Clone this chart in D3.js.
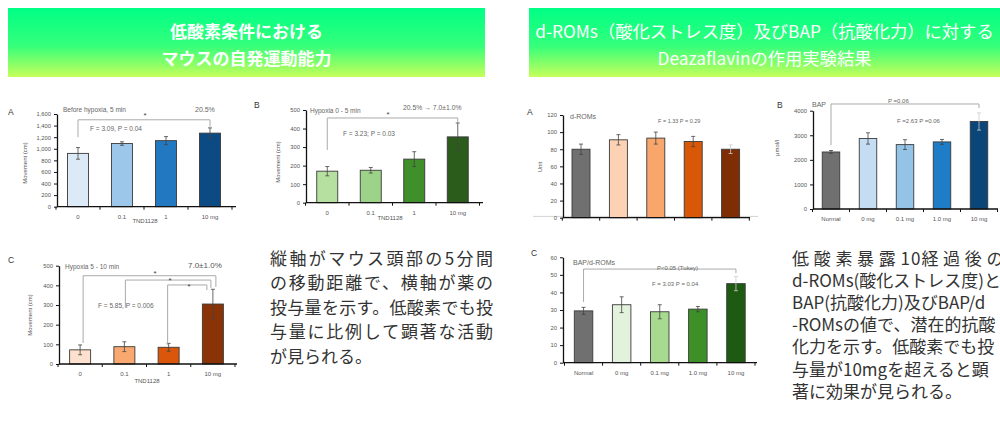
<!DOCTYPE html>
<html>
<head>
<meta charset="utf-8">
<script src="https://cdn.jsdelivr.net/npm/d3@7"></script>
<style>
body { margin: 0; background: #fff; }
svg text { font-family: "Liberation Sans", Arial, sans-serif; }
svg text.jp { font-family: "Noto Sans CJK JP", sans-serif; }
</style>
</head>
<body>
<svg width="1000" height="425"></svg>
<script>
// ---- data ----
var doseLabels = ["0", "0.1", "1", "10 mg"];
var groupLabels = ["Normal", "0 mg", "0.1 mg", "1.0 mg", "10 mg"];

var moveBefore = [920, 1090, 1140, 1270];
var moveBeforeErr = [100, 30, 70, 90];
var moveHyp05 = [170, 175, 235, 355];
var moveHyp05Err = [25, 15, 40, 75];
var moveHyp510 = [72, 88, 85, 305];
var moveHyp510Err = [25, 25, 20, 75];

var dromsVals = [80, 91, 93, 89, 80];
var dromsErr = [6, 6, 7, 6, 5];
var bapVals = [2320, 2870, 2620, 2730, 3560];
var bapErr = [60, 230, 200, 100, 350];
var ratioVals = [29.5, 33, 29, 30.5, 45];
var ratioErr = [2, 4.5, 4, 1.5, 4];

var ticksMoveA = [0, 200, 400, 600, 800, 1000, 1200, 1400, 1600];
var ticksMove = [0, 100, 200, 300, 400, 500];
var ticksDroms = [0, 20, 40, 60, 80, 100, 120];
var ticksBap = [0, 1000, 2000, 3000, 4000];
var ticksRatio = [0, 10, 20, 30, 40, 50, 60];

var headerLeft = ["低酸素条件における", "マウスの自発運動能力"];
var headerRight = ["d-ROMs（酸化ストレス度）及びBAP（抗酸化力）に対する", "Deazaflavinの作用実験結果"];
var noteLeft = ["縦軸がマウス頭部の5分間", "の移動距離で、横軸が薬の", "投与量を示す。低酸素でも投",
                "与量に比例して顕著な活動", "が見られる。"];
// first line of the right note is split so the digits keep tight spacing
var noteRightFirst = ["低酸素暴露", "10", "経過後の"];
var noteRight = ["d-ROMs(酸化ストレス度)と", "BAP(抗酸化力)及びBAP/d",
                 "-ROMsの値で、潜在的抗酸", "化力を示す。低酸素でも投", "与量が10mgを超えると顕",
                 "著に効果が見られる。"];

var svg = d3.select("svg");

// header gradient
var grad = svg.append("defs").append("linearGradient")
  .attr("id", "hdr").attr("x1", 0).attr("y1", 0).attr("x2", 0).attr("y2", 1);
grad.append("stop").attr("offset", "0%").attr("stop-color", "#00ff86");
grad.append("stop").attr("offset", "55%").attr("stop-color", "#35ff7a");
grad.append("stop").attr("offset", "100%").attr("stop-color", "#c6ff5a");

function header(x, w, lines, weight, size) {
  svg.append("rect").attr("x", x).attr("y", 8).attr("width", w).attr("height", 69)
    .attr("fill", "url(#hdr)");
  lines.forEach(function(t, i) {
    svg.append("text").attr("class", "jp")
      .attr("x", x + w / 2).attr("y", 30 + i * 27)
      .attr("text-anchor", "middle").attr("dominant-baseline", "central")
      .attr("fill", "#fff").attr("font-size", size).attr("font-weight", weight)
      .text(t);
  });
}
header(8, 477, headerLeft, "bold", 17);
header(529, 471, headerRight, "normal", 17.3);

function panel(p) {
  var g = svg.append("g");
  var n = p.values.length;
  var x = d3.scalePoint().domain(d3.range(n)).range(p.xr).padding(0.5);
  var y = d3.scaleLinear().domain([0, p.max]).range([p.y0, p.yTop]);
  var step = x.step();

  if (p.faint) {
    g.append("line").attr("x1", p.ax - 30).attr("x2", p.axEnd + 8)
      .attr("y1", y(p.faint)).attr("y2", y(p.faint))
      .attr("stroke", "#c8c8c8").attr("stroke-width", 0.8);
  }

  g.selectAll("rect.bar").data(p.values).enter().append("rect")
    .attr("class", "bar")
    .attr("x", function(d, i) { return x(i) - p.bw / 2; })
    .attr("y", function(d) { return y(d); })
    .attr("width", p.bw)
    .attr("height", function(d) { return y(0) - y(d); })
    .attr("fill", function(d, i) { return p.colors[i]; })
    .attr("stroke", "#3a3a3a").attr("stroke-width", 0.9);

  // error bars
  var eb = g.selectAll("g.err").data(p.values).enter().append("g").attr("class", "err")
    .attr("stroke", function(d, i) { return i === n - 1 && p.lastLightErr ? "#ccc" : "#444"; })
    .attr("stroke-width", 0.8);
  eb.append("line")
    .attr("x1", function(d, i) { return x(i); }).attr("x2", function(d, i) { return x(i); })
    .attr("y1", function(d, i) { return y(d - p.errs[i]); })
    .attr("y2", function(d, i) { return y(d + p.errs[i]); });
  [-1, 1].forEach(function(s) {
    eb.append("line")
      .attr("x1", function(d, i) { return x(i) - 2; }).attr("x2", function(d, i) { return x(i) + 2; })
      .attr("y1", function(d, i) { return y(d + s * p.errs[i]); })
      .attr("y2", function(d, i) { return y(d + s * p.errs[i]); });
  });

  // y axis
  var ya = g.append("g").attr("transform", "translate(" + p.ax + ",0)")
    .call(d3.axisLeft(y).tickValues(p.ticks).tickSize(3).tickSizeOuter(0).tickFormat(p.fmt || d3.format("d")));
  ya.select(".domain").attr("stroke", "#111").attr("stroke-width", 1.3);
  ya.selectAll(".tick line").attr("stroke", "#111");
  ya.selectAll(".tick text").attr("font-size", 5.8).attr("fill", "#555").attr("x", -6)
    .attr("font-family", "Liberation Sans, Arial, sans-serif");

  // x axis line + boundary ticks
  g.append("line").attr("x1", p.ax).attr("x2", p.axEnd).attr("y1", y(0)).attr("y2", y(0))
    .attr("stroke", "#111").attr("stroke-width", 1.3);
  g.selectAll("line.xt").data(d3.range(n + 1)).enter().append("line").attr("class", "xt")
    .attr("x1", function(i) { return x(0) - step / 2 + i * step; })
    .attr("x2", function(i) { return x(0) - step / 2 + i * step; })
    .attr("y1", y(0)).attr("y2", y(0) + 3)
    .attr("stroke", "#111").attr("stroke-width", 1);

  if (p.labels) {
    g.selectAll("text.xl").data(p.labels).enter().append("text").attr("class", "xl")
      .attr("x", function(d, i) { return x(i); }).attr("y", y(0) + 10)
      .attr("text-anchor", "middle").attr("dominant-baseline", "central")
      .attr("font-size", 6).attr("fill", "#555").text(function(d) { return d; });
  }

  // significance brackets
  (p.brackets || []).forEach(function(b) {
    var xa = x(b.a) + (b.da || 0), xb = x(b.b) + (b.db || 0);
    g.append("path")
      .attr("d", "M" + xa + "," + y(b.va) + "V" + y(b.v) + "H" + xb + "V" + y(b.vb))
      .attr("fill", "none").attr("stroke", "#aaa").attr("stroke-width", 1);
  });

  // texts
  (p.notes || []).forEach(function(t) {
    g.append("text").attr("x", t.x).attr("y", t.y)
      .attr("text-anchor", t.anchor || "start").attr("dominant-baseline", "central")
      .attr("font-size", t.size || 6.5).attr("fill", t.color || "#666")
      .text(t.t);
  });

  if (p.ylabel) {
    g.append("text").attr("transform", "translate(" + p.ylx + "," + p.yly + ") rotate(-90)")
      .attr("text-anchor", "middle").attr("dominant-baseline", "central")
      .attr("font-size", 6).attr("fill", "#555").text(p.ylabel);
  }
  g.append("text").attr("x", p.lx).attr("y", p.ly).attr("dominant-baseline", "central")
    .attr("font-size", 8.5).attr("fill", "#333").text(p.letter);
}

// left column
panel({values: moveBefore, errs: moveBeforeErr, labels: doseLabels,
  colors: ["#dce9f6", "#9dc7ea", "#2279c2", "#0b4a82"],
  max: 1600, ticks: ticksMoveA, fmt: d3.format(","),
  ax: 57, axEnd: 236, xr: [56, 232], y0: 206.7, yTop: 114, bw: 21,
  ylabel: "Movement (cm)", ylx: 25, yly: 163, letter: "A", lx: 8, ly: 112,
  brackets: [{a: 0, b: 3, v: 1500, va: 1200, vb: 1380}],
  notes: [{t: "Before hypoxia, 5 min", x: 63, y: 109},
          {t: "20.5%", x: 195, y: 109, size: 7},
          {t: "*", x: 145, y: 115, anchor: "middle", size: 8, color: "#444"},
          {t: "F = 3.09, P = 0.04", x: 90, y: 128},
          {t: "TND1128", x: 145, y: 221, anchor: "middle", size: 6, color: "#555"}]});

panel({values: moveHyp05, errs: moveHyp05Err, labels: doseLabels,
  colors: ["#b6e0a0", "#9dd388", "#3f902a", "#2b5c1c"],
  max: 500, ticks: ticksMove,
  ax: 306, axEnd: 483, xr: [305.5, 479.5], y0: 202.7, yTop: 110, bw: 21,
  ylabel: "Movement (cm)", ylx: 278, yly: 162, letter: "B", lx: 254, ly: 105,
  brackets: [{a: 0, b: 3, v: 457, va: 284, vb: 430}],
  notes: [{t: "Hypoxia 0 - 5 min", x: 310, y: 110},
          {t: "20.5% → 7.0±1.0%", x: 403, y: 107, size: 6.8},
          {t: "*", x: 388, y: 114, anchor: "middle", size: 8, color: "#444"},
          {t: "F = 3.23; P = 0.03", x: 343, y: 133},
          {t: "TND1128", x: 390, y: 218, anchor: "middle", size: 6, color: "#555"}]});

panel({values: moveHyp510, errs: moveHyp510Err, labels: doseLabels,
  colors: ["#fde0cd", "#f9a96f", "#d9560b", "#8a3307"],
  max: 500, ticks: ticksMove,
  ax: 59, axEnd: 237, xr: [58, 235], y0: 364, yTop: 265.7, bw: 21,
  ylabel: "Movement (cm)", ylx: 30, yly: 315, letter: "C", lx: 8, ly: 260,
  brackets: [{a: 0, b: 3, v: 449, va: 107, vb: 392, da: 3, db: 3},
             {a: 1, b: 3, v: 427, va: 285, vb: 387, da: 1, db: -2},
             {a: 2, b: 3, v: 402, va: 97, vb: 376, da: -1, db: -6}],
  notes: [{t: "Hypoxia 5 - 10 min", x: 65, y: 266},
          {t: "7.0±1.0%", x: 188, y: 265, size: 8, color: "#555"},
          {t: "*", x: 155, y: 273, anchor: "middle", size: 8, color: "#444"},
          {t: "*", x: 170, y: 280, anchor: "middle", size: 8, color: "#444"},
          {t: "*", x: 189, y: 286, anchor: "middle", size: 8, color: "#444"},
          {t: "F = 5.85, P = 0.006", x: 98, y: 305},
          {t: "TND1128", x: 147, y: 381, anchor: "middle", size: 6, color: "#555"}]});

// right column
panel({values: dromsVals, errs: dromsErr, labels: null,
  colors: ["#707070", "#fdd2b4", "#f9a66c", "#d85808", "#7e2d05"],
  max: 120, ticks: ticksDroms, faint: 1.5, lastLightErr: true,
  ax: 563, axEnd: 750, xr: [562.3, 749.3], y0: 217.7, yTop: 115, bw: 18,
  ylabel: "Unit", ylx: 540, yly: 167, letter: "A", lx: 527, ly: 112,
  notes: [{t: "d-ROMs", x: 570, y: 116, size: 7},
          {t: "F = 1.33 P = 0.29", x: 658, y: 121, size: 5.5}]});

panel({values: bapVals, errs: bapErr, labels: groupLabels,
  colors: ["#707070", "#c4ddf2", "#93c3e7", "#1f7cc6", "#0b4678"],
  max: 4000, ticks: ticksBap, lastLightErr: true,
  ax: 813, axEnd: 998, xr: [812.5, 997.5], y0: 209, yTop: 110.7, bw: 17.5,
  ylabel: "μmol/l", ylx: 777, yly: 148, letter: "B", lx: 777, ly: 105,
  brackets: [{a: 0, b: 4, v: 4273, va: 2604, vb: 4110}],
  notes: [{t: "BAP", x: 812, y: 104, size: 7},
          {t: "P =0.06", x: 888, y: 101, size: 6},
          {t: "F =2.63 P =0.06", x: 897, y: 121, size: 6}]});

panel({values: ratioVals, errs: ratioErr, labels: groupLabels,
  colors: ["#707070", "#e3f2dc", "#a7d98e", "#3d8f28", "#1f5a12"],
  max: 60, ticks: ticksRatio, lastLightErr: true,
  ax: 563, axEnd: 757, xr: [564.5, 755], y0: 362.7, yTop: 257.3, bw: 18.5,
  letter: "C", lx: 531, ly: 253,
  brackets: [{a: 0, b: 4, v: 53.3, va: 34.6, vb: 51}],
  notes: [{t: "BAP/d-ROMs", x: 573, y: 262, size: 7},
          {t: "P<0.05 (Tukey)", x: 657, y: 268, size: 6},
          {t: "F = 3.03 P = 0.04", x: 652, y: 284, size: 6}]});

// explanatory notes
noteLeft.forEach(function(t, i) {
  var el = svg.append("text").attr("class", "jp")
    .attr("x", 270).attr("y", 257 + i * 24.5).attr("dominant-baseline", "central")
    .attr("font-size", 17).attr("fill", "#333").text(t);
  if (i < noteLeft.length - 1) el.attr("textLength", 223).attr("lengthAdjust", "spacing");
});
var first = svg.append("text").attr("class", "jp")
  .attr("x", 792).attr("y", 257).attr("dominant-baseline", "central")
  .attr("font-size", 17).attr("fill", "#333");
noteRightFirst.forEach(function(t, i) {
  first.append("tspan").style("letter-spacing", i === 1 ? "1px" : "4.7px").text(t);
});
noteRight.forEach(function(t, i) {
  svg.append("text").attr("class", "jp")
    .attr("x", 792).attr("y", 257 + (i + 1) * 22.2).attr("dominant-baseline", "central")
    .attr("font-size", 17).attr("fill", "#333").text(t);
});
</script>
</body>
</html>
